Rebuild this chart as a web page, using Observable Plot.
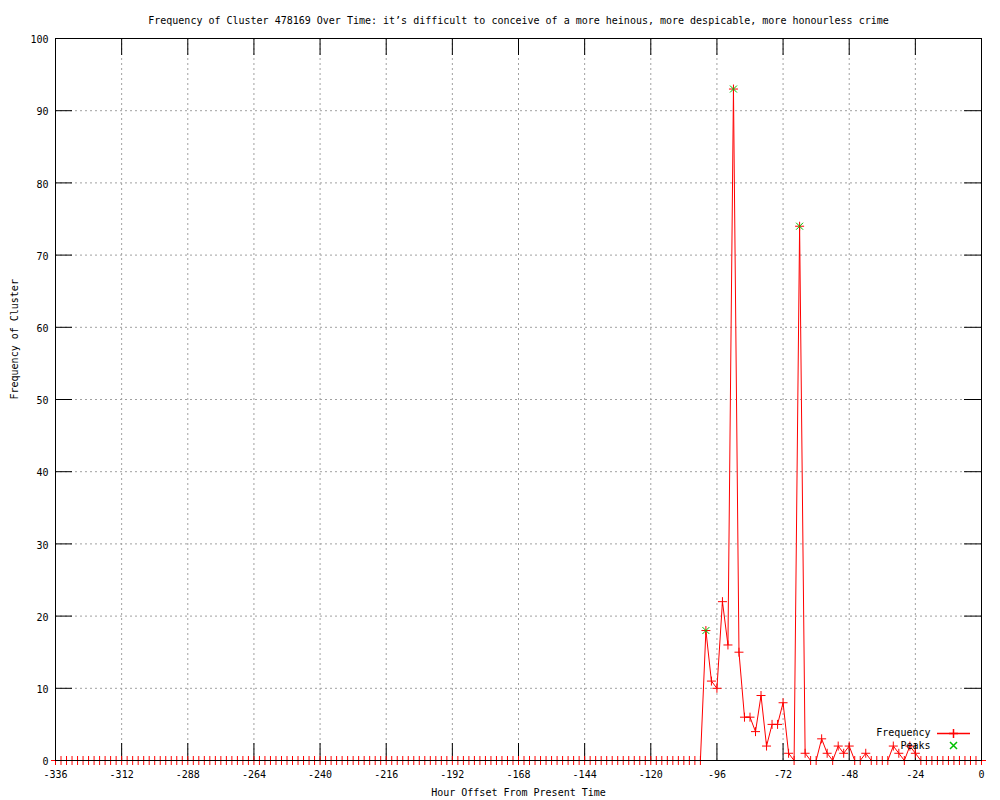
<!DOCTYPE html>
<html>
<head>
<meta charset="utf-8">
<script src="https://cdn.jsdelivr.net/npm/d3@7"></script>
<script src="https://cdn.jsdelivr.net/npm/@observablehq/plot@0.6"></script>
<style>
  html, body { margin: 0; padding: 0; background: #fff; }
</style>
</head>
<body>
<div id="chart"></div>
<script>
const titleText = "Frequency of Cluster 478169 Over Time: it\u2019s difficult to conceive of a more heinous, more despicable, more honourless crime";
const xLabel = "Hour Offset From Present Time";
const yLabel = "Frequency of Cluster";

// hour offsets (every 2 hours)
const hours = d3.range(-336, 1, 2);
// frequency per 2-hour slot, -336 .. 0
const freq = [
  0,0,0,0,0,0,0,0,0,0,0,0,0,0,0,0,0,0,0,0,
  0,0,0,0,0,0,0,0,0,0,0,0,0,0,0,0,0,0,0,0,
  0,0,0,0,0,0,0,0,0,0,0,0,0,0,0,0,0,0,0,0,
  0,0,0,0,0,0,0,0,0,0,0,0,0,0,0,0,0,0,0,0,
  0,0,0,0,0,0,0,0,0,0,0,0,0,0,0,0,0,0,0,0,
  0,0,0,0,0,0,0,0,0,0,0,0,0,0,0,0,0,0,
  18,11,10,22,16,93,15,6,6,4,
  9,2,5,5,8,1,0,74,1,0,
  0,3,1,0,2,1,2,0,0,1,
  0,0,0,0,2,1,0,2,1,0,
  0,0,0,0,0,0,0,0,0,0,0
];
const peakHours = [-100, -90, -66];
const peakValues = [18, 93, 74];

const xTicks = [-336, -312, -288, -264, -240, -216, -192, -168, -144, -120, -96, -72, -48, -24, 0];
const yTicks = [0, 10, 20, 30, 40, 50, 60, 70, 80, 90, 100];
const legendLabels = ["Frequency", "Peaks"];

const freqData = hours.map((h, i) => ({h, v: freq[i]}));
const peakData = peakHours.map((h, i) => ({h, v: peakValues[i]}));

const W = 1000, H = 800;
const mL = 55, mR = 19, mT = 38, mB = 40;
const innerW = W - mL - mR, innerH = H - mT - mB;
const tick = 17;

const plusSym = {draw(ctx, size) { const r = Math.sqrt(size / Math.PI); ctx.moveTo(-r, 0); ctx.lineTo(r, 0); ctx.moveTo(0, -r); ctx.lineTo(0, r); }};
const timesSym = {draw(ctx, size) { const r = Math.sqrt(size / Math.PI); ctx.moveTo(-r, -r); ctx.lineTo(r, r); ctx.moveTo(-r, r); ctx.lineTo(r, -r); }};
const hlineSym = {draw(ctx, size) { const r = Math.sqrt(size / Math.PI); ctx.moveTo(-r, 0); ctx.lineTo(r, 0); }};

const RED = "#ff0000", GREEN = "#00c000";

const chart = Plot.plot({
  width: W, height: H,
  marginLeft: mL, marginRight: mR, marginTop: mT, marginBottom: mB,
  style: {fontFamily: "'DejaVu Sans Mono', monospace", fontSize: "10px", background: "#fff", color: "#000"},
  x: {domain: [-336, 0]},
  y: {domain: [0, 100]},
  marks: [
    Plot.gridX(xTicks, {stroke: "#a0a0a0", strokeOpacity: 1, strokeDasharray: "2,3"}),
    Plot.gridY(yTicks, {stroke: "#a0a0a0", strokeOpacity: 1, strokeDasharray: "2,3"}),
    Plot.ruleX(xTicks, {x: d => d, insetTop: innerH - tick, stroke: "#000"}),
    Plot.ruleX(xTicks, {x: d => d, insetBottom: innerH - tick, stroke: "#000"}),
    Plot.ruleY(yTicks, {y: d => d, insetRight: innerW - tick, stroke: "#000"}),
    Plot.ruleY(yTicks, {y: d => d, insetLeft: innerW - tick, stroke: "#000"}),
    Plot.line(freqData, {x: "h", y: "v", stroke: RED, strokeWidth: 1}),
    Plot.dot(freqData, {x: "h", y: "v", symbol: plusSym, r: 4.5, stroke: RED, fill: "none", strokeWidth: 1}),
    Plot.dot(peakData, {x: "h", y: "v", symbol: timesSym, r: 3.5, stroke: GREEN, fill: "none", strokeWidth: 1}),
    Plot.frame({stroke: "#000"}),
    Plot.axisX({ticks: xTicks, tickSize: 0, tickPadding: 10, tickFormat: d => String(d), label: null}),
    Plot.axisY({ticks: yTicks, tickSize: 0, tickPadding: 7, tickFormat: d => String(d), label: null, dy: 1.5}),
    Plot.text([titleText], {text: d => d, frameAnchor: "top", dy: -22, fill: "#000"}),
    Plot.text([xLabel], {text: d => d, frameAnchor: "bottom", dy: 35, fill: "#000"}),
    Plot.text([yLabel], {text: d => d, frameAnchor: "left", dx: -41, rotate: -90, fill: "#000"}),
    // legend
    Plot.text([legendLabels[0]], {text: d => d, frameAnchor: "bottom-right", dx: -51, dy: -25, textAnchor: "end", fill: "#000"}),
    Plot.text([legendLabels[1]], {text: d => d, frameAnchor: "bottom-right", dx: -51, dy: -12, textAnchor: "end", fill: "#000"}),
    Plot.dot([0], {frameAnchor: "bottom-right", dx: -28, dy: -27, symbol: hlineSym, r: 16.5, stroke: RED, fill: "none"}),
    Plot.dot([0], {frameAnchor: "bottom-right", dx: -28, dy: -27, symbol: plusSym, r: 4.5, stroke: RED, fill: "none"}),
    Plot.dot([0], {frameAnchor: "bottom-right", dx: -28, dy: -15, symbol: timesSym, r: 3.5, stroke: GREEN, fill: "none"})
  ]
});
document.getElementById("chart").appendChild(chart);
</script>
</body>
</html>
